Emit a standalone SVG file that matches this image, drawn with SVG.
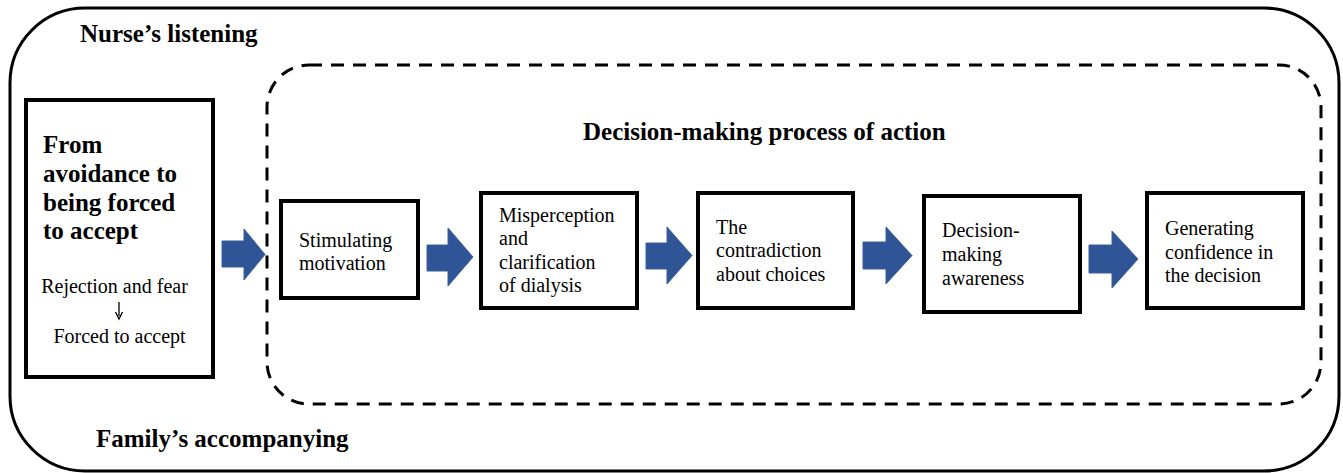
<svg xmlns="http://www.w3.org/2000/svg" width="1343" height="473" viewBox="0 0 1343 473">
<style>
.t{font-family:"Liberation Serif","Times New Roman",Times,serif;fill:#000}
.b{font-weight:bold}
.box{fill:#fff;stroke:#000;stroke-width:4}
.arr{fill:#2F5597;stroke:#3A5F9A;stroke-width:1}
</style>
<rect width="1343" height="473" fill="#fff"/>
<g id="outer">
<rect x="10" y="8" width="1329" height="463" rx="75" ry="75" fill="none" stroke="#000" stroke-width="3"/>
<text class="t b" x="80" y="42" font-size="25">Nurse’s listening</text>
<text class="t b" x="96" y="447" font-size="25">Family’s accompanying</text>
</g>
<g id="process">
<rect x="267" y="65" width="1054" height="339" rx="42" ry="42" fill="none" stroke="#000" stroke-width="3" stroke-dasharray="13,9"/>
<text class="t b" x="583" y="140" font-size="25">Decision-making process of action</text>
</g>
<g id="avoidance">
<rect class="box" x="26" y="100" width="187" height="277"/>
<text class="t b" font-size="25"><tspan x="43" y="153">From</tspan><tspan x="43" y="182">avoidance to</tspan><tspan x="43" y="211">being forced</tspan><tspan x="43" y="239">to accept</tspan></text>
<text class="t" font-size="20" x="114.5" y="293" text-anchor="middle">Rejection and fear</text>
<text class="t" font-size="20" x="119.5" y="343" text-anchor="middle">Forced to accept</text>
<line x1="119" y1="302" x2="119" y2="316" stroke="#000" stroke-width="1.3"/>
<path d="M115.5,312 L119,319 L122.5,312" fill="none" stroke="#000" stroke-width="1.3"/>
</g>
<g id="n1">
<rect class="box" x="281" y="201" width="137" height="97"/>
<text class="t" font-size="20"><tspan x="299" y="247">Stimulating</tspan><tspan x="299" y="270">motivation</tspan></text>
</g>
<g id="n2">
<rect class="box" x="481" y="193" width="156" height="115"/>
<text class="t" font-size="20"><tspan x="499" y="222">Misperception</tspan><tspan x="499" y="245">and</tspan><tspan x="499" y="269">clarification</tspan><tspan x="499" y="292">of dialysis</tspan></text>
</g>
<g id="n3">
<rect class="box" x="698" y="193" width="155" height="115"/>
<text class="t" font-size="20"><tspan x="716" y="234">The</tspan><tspan x="716" y="257">contradiction</tspan><tspan x="716" y="281">about choices</tspan></text>
</g>
<g id="n4">
<rect class="box" x="924" y="196" width="156" height="116"/>
<text class="t" font-size="20"><tspan x="942" y="237">Decision-</tspan><tspan x="942" y="261">making</tspan><tspan x="942" y="285">awareness</tspan></text>
</g>
<g id="n5">
<rect class="box" x="1147" y="193" width="156" height="115"/>
<text class="t" font-size="20"><tspan x="1165" y="235">Generating</tspan><tspan x="1165" y="259">confidence in</tspan><tspan x="1165" y="282">the decision</tspan></text>
</g>
<g id="connectors">
<path class="arr" d="M222,241 H244 V229 L265,254.5 L244,280 V267 H222 Z"/>
<path class="arr" d="M427,245 H448 V228 L473,257 L448,286 V271 H427 Z"/>
<path class="arr" d="M646,243 H667 V227 L692,255.5 L667,284 V269 H646 Z"/>
<path class="arr" d="M863,242 H886 V227 L912,255.5 L886,284 V269 H863 Z"/>
<path class="arr" d="M1089,245 H1112 V231 L1138,259 L1112,288 V273 H1089 Z"/>
</g>
</svg>
